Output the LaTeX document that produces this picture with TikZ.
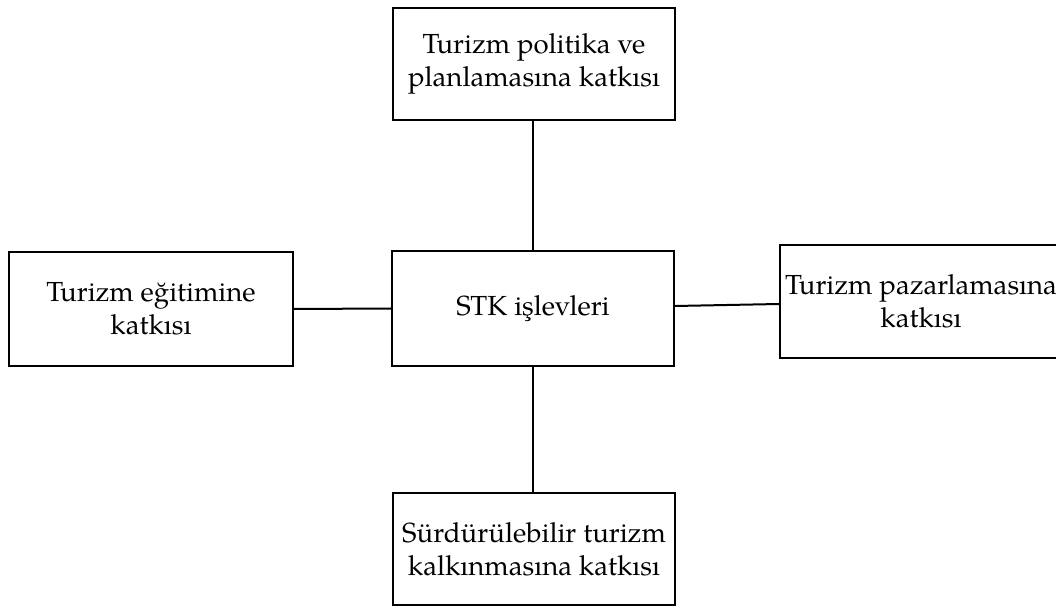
\documentclass[tikz,border=0pt]{standalone}
\usepackage{fontspec}
\setmainfont{TeX Gyre Pagella}
\begin{document}
\begin{tikzpicture}[x=1pt,y=1pt,
  box/.style={draw=black,line width=2pt,minimum width=282pt,inner sep=0pt,align=center,
    font=\fontsize{27.6}{33}\selectfont},
  link/.style={draw=black,line width=2pt}]
\useasboundingbox (0,0) rectangle (1056,608);
\node[box,minimum height=112pt] (top) at (534,544) {Turizm politika ve\\planlamasına katkısı};
\node[box,minimum height=115pt] (c) at (533,299.5) {STK işlevleri};
\node[box,minimum height=114pt,minimum width=284pt] (l) at (151,299) {Turizm eğitimine\\katkısı};
\node[box,minimum height=113pt] (r) at (921,306.5) {Turizm pazarlamasına\\katkısı};
\node[box,minimum height=112pt] (b) at (534,59) {Sürdürülebilir turizm\\kalkınmasına katkısı};
\draw[link] (top.south -| c.north) -- (c.north);
\draw[link] (c.south) -- (c.south |- b.north);
\draw[link] (l.east) -- (c.west);
\draw[link] ([yshift=2.5pt]c.east) -- ([yshift=-2.5pt]r.west);
\end{tikzpicture}
\end{document}
